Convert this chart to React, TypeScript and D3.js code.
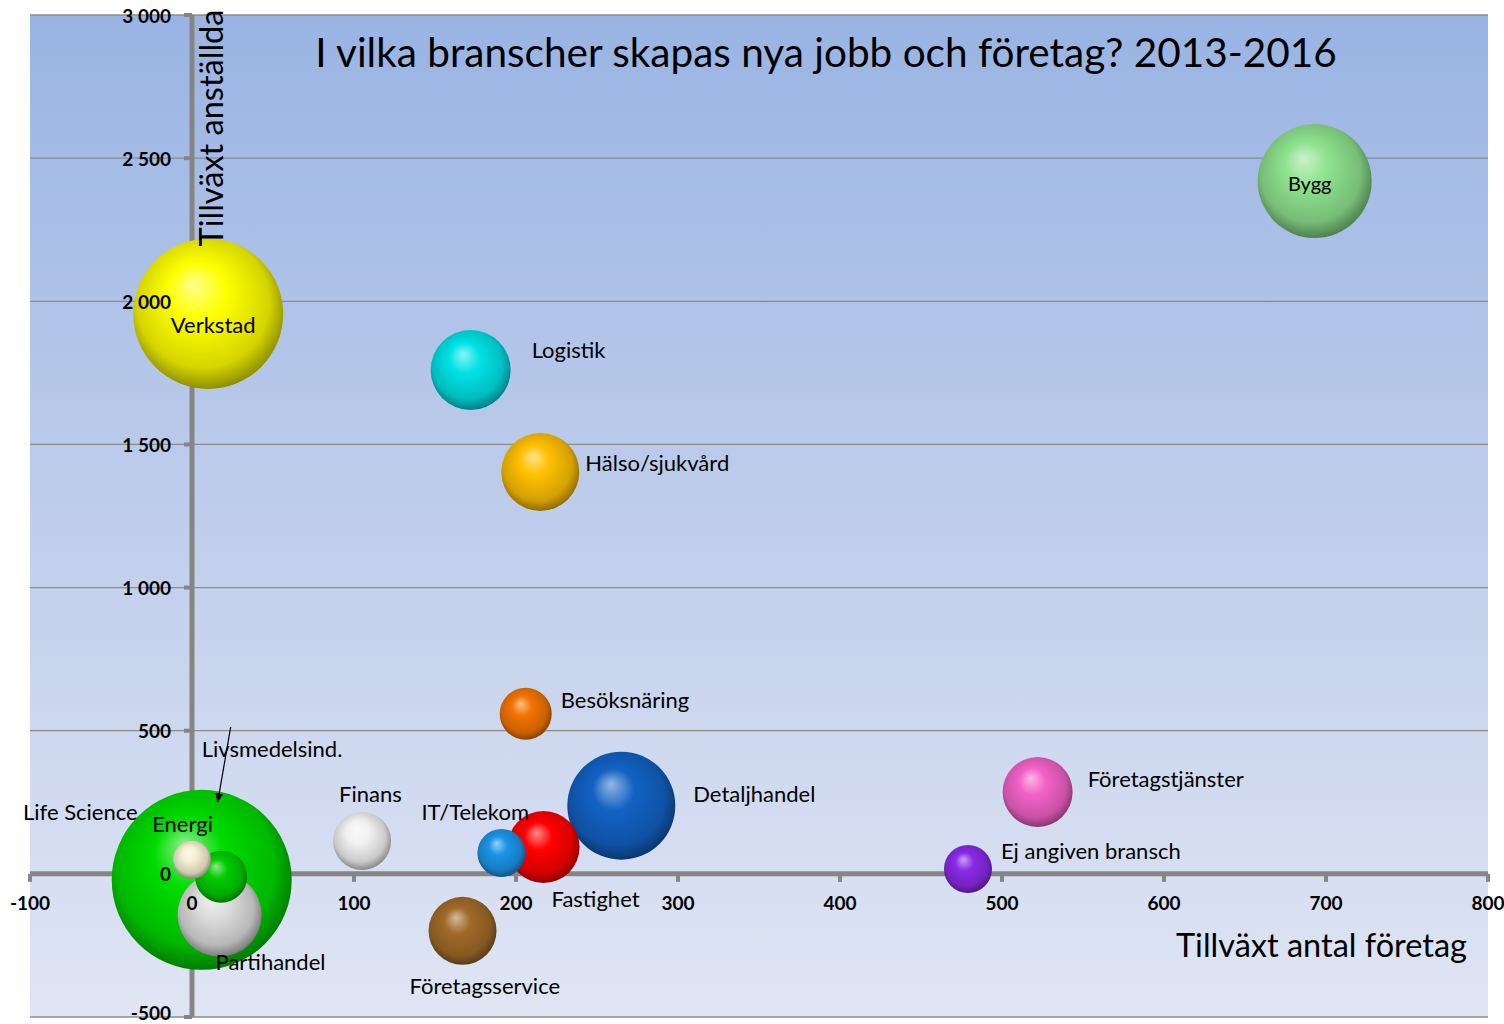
import React from 'react';
import * as d3 from 'd3';

// branscher, tillväxt 2013-2016
const categories = [
  'Livsmedelsind.', 'Verkstad', 'Bygg', 'Detaljhandel', 'Partihandel', 'Logistik',
  'Hälso/sjukvård', 'Fastighet', 'Företagstjänster', 'Företagsservice', 'Finans',
  'Besöksnäring', 'Energi', 'IT/Telekom', 'Ej angiven bransch', 'Life Science',
];
const tillvaxtForetag = [6, 10, 693, 265, 17, 172, 215, 217, 522, 167, 105, 206, 18, 191, 479, 0];
const tillvaxtAnstallda = [-21, 1956, 2420, 238, -143, 1760, 1404, 94, 286, -199, 115, 559, -10, 73, 17, 49];
const bubbleSize = [8100, 5625, 3250, 2916, 1764, 1600, 1520, 1300, 1225, 1156, 841, 676, 676, 576, 576, 361];
const bubbleColors = [
  '#00dc00', '#ffff00', '#8ee28e', '#1262c4', '#dcdcdc', '#00e2e6',
  '#ffc000', '#ff0000', '#f262c6', '#a06a28', '#f2f2f2',
  '#f27400', '#00cc00', '#1c94e6', '#8a2ae6', '#f6f0d2',
];

const xTicks = [-100, 0, 100, 200, 300, 400, 500, 600, 700, 800];
const yTicks = [-500, 0, 500, 1000, 1500, 2000, 2500, 3000];

// label placement relative to bubble centre (px)
const labelPos: Record<string, [number, number, string]> = {
  'Livsmedelsind.': [0, -131, 'start'],
  'Verkstad': [5, 11, 'middle'],
  'Bygg': [-5, 2, 'middle'],
  'Detaljhandel': [72, -12, 'start'],
  'Partihandel': [-4, 47, 'start'],
  'Logistik': [61, -20, 'start'],
  'Hälso/sjukvård': [45, -9, 'start'],
  'Fastighet': [8, 52, 'start'],
  'Företagstjänster': [50, -13, 'start'],
  'Företagsservice': [-53, 55, 'start'],
  'Finans': [-23, -47, 'start'],
  'Besöksnäring': [35, -14, 'start'],
  'Energi': [-69, -53, 'start'],
  'IT/Telekom': [-80, -41, 'start'],
  'Ej angiven bransch': [33, -18, 'start'],
  'Life Science': [-169, -48, 'start'],
};

const FONT = 'Lato, "Open Sans", sans-serif';

export default function App() {
  const width = 1504, height = 1024;
  const left = 30, right = 1488, top = 15, bottom = 1017;

  const x = d3.scaleLinear().domain([-100, 800]).range([left, right]);
  const y = d3.scaleLinear().domain([-500, 3000]).range([bottom, top]);
  const r = d3.scaleSqrt().domain([0, 10000]).range([0, 100]);
  const fmt = (v: number) => d3.format(',')(v).replace(',', ' ').replace('\u2212', '-');

  const order = d3.range(categories.length).sort((a, b) => bubbleSize[b] - bubbleSize[a]);

  const x0 = x(0), y0 = y(0);

  return (
    <svg width={width} height={height} style={{ position: 'absolute', left: 0, top: 0, background: '#fff' }}>
      <defs>
        <linearGradient id="bg" x1="0" y1="0" x2="0" y2="1">
          <stop offset="0%" stopColor="#99b4e3" />
          <stop offset="55%" stopColor="#c3d0ec" />
          <stop offset="100%" stopColor="#dfe5f3" />
        </linearGradient>
        {bubbleColors.map((c, i) => {
          const col = d3.color(c)!;
          return (
            <radialGradient key={i} id={'ball' + i} cx="0.48" cy="0.45" r="0.55" fx="0.4" fy="0.3">
              <stop offset="0%" stopColor={d3.interpolateRgb(c, '#ffffff')(0.55)} />
              <stop offset="35%" stopColor={c} />
              <stop offset="80%" stopColor={col.darker(0.5).toString()} />
              <stop offset="100%" stopColor={col.darker(1.6).toString()} />
            </radialGradient>
          );
        })}
        <marker id="arrow" viewBox="0 0 10 10" refX="9" refY="5" markerWidth="8" markerHeight="8" orient="auto">
          <path d="M0,1 L10,5 L0,9 z" fill="#000" />
        </marker>
      </defs>

      <rect x={left} y={top} width={right - left} height={bottom - top} fill="url(#bg)" />

      {/* grid */}
      {yTicks.map((t) => (
        <line key={t} x1={left} x2={right} y1={y(t)} y2={y(t)} stroke="#8c8c8c" strokeWidth={1.3} />
      ))}

      {/* axes */}
      <line x1={left} x2={right} y1={y0} y2={y0} stroke="#858585" strokeWidth={5} />
      <line x1={x0} x2={x0} y1={top} y2={bottom} stroke="#858585" strokeWidth={5} />
      {xTicks.map((t) => (
        <line key={t} x1={x(t)} x2={x(t)} y1={y0} y2={y0 + 8} stroke="#858585" strokeWidth={4} />
      ))}
      {yTicks.map((t) => (
        <line key={t} x1={x0 - 8} x2={x0} y1={y(t)} y2={y(t)} stroke="#858585" strokeWidth={4} />
      ))}

      {/* title */}
      <text x={826} y={51} textAnchor="middle" dominantBaseline="central" fontFamily={FONT} fontSize={40.5} fill="#000">
        I vilka branscher skapas nya jobb och företag? 2013-2016
      </text>

      {/* bubbles */}
      {order.map((i) => (
        <circle key={categories[i]} cx={x(tillvaxtForetag[i])} cy={y(tillvaxtAnstallda[i])} r={r(bubbleSize[i])} fill={`url(#ball${i})`} />
      ))}

      {/* tick labels */}
      {yTicks.map((t) => (
        <text key={t} x={171} y={Math.min(y(t), 1012)} textAnchor="end" dominantBaseline="central" fontFamily={FONT} fontWeight="bold" fontSize={19} fill="#000">
          {fmt(t)}
        </text>
      ))}
      {xTicks.map((t) => (
        <text key={t} x={x(t)} y={902} textAnchor="middle" dominantBaseline="central" fontFamily={FONT} fontWeight="bold" fontSize={19} fill="#000">
          {fmt(t)}
        </text>
      ))}

      {/* axis titles */}
      <text transform="translate(210,128) rotate(-90)" textAnchor="middle" dominantBaseline="central" fontFamily={FONT} fontSize={32.5} fill="#000">
        Tillväxt anställda
      </text>
      <text x={1467} y={944} textAnchor="end" dominantBaseline="central" fontFamily={FONT} fontSize={32.5} fill="#000">
        Tillväxt antal företag
      </text>

      {/* data labels */}
      {categories.map((c, i) => {
        const [dx, dy, anchor] = labelPos[c];
        return (
          <text key={c} x={x(tillvaxtForetag[i]) + dx} y={y(tillvaxtAnstallda[i]) + dy} textAnchor={anchor as any}
            dominantBaseline="central" fontFamily={FONT} fontSize={c === 'Bygg' ? 20 : 22} fill="#000">
            {c}
          </text>
        );
      })}

      {/* arrow to Livsmedelsind. */}
      <line x1={x(tillvaxtForetag[0]) + 29} y1={y(tillvaxtAnstallda[0]) - 153}
        x2={x(tillvaxtForetag[0]) + 16} y2={y(tillvaxtAnstallda[0]) - 78}
        stroke="#000" strokeWidth={1.2} markerEnd="url(#arrow)" />
    </svg>
  );
}
